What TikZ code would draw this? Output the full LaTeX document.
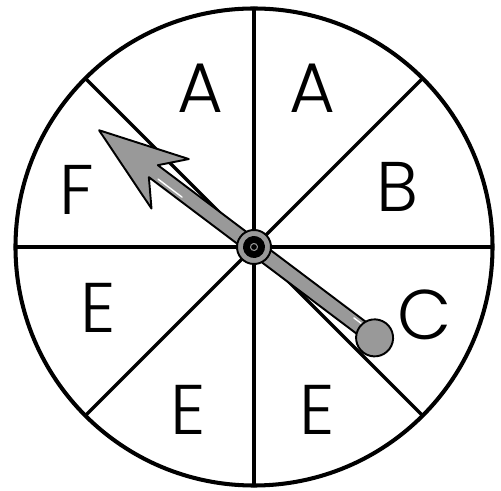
\documentclass[tikz,border=0pt]{standalone}
\usepackage{fontspec}
\setmainfont{Poppins Light}
\begin{document}
\begin{tikzpicture}[x=1cm,y=1cm,line cap=round,line join=round,
    sector/.style={font=\fontsize{40}{40}\selectfont,inner sep=0pt},
    divider/.style={line width=2pt},
    pointer/.style={line width=1.1pt,fill=black!40}]
  \useasboundingbox (-5.08,-4.88) rectangle (4.94,4.94);
  \coordinate (O) at (0,0);
  % dial
  \foreach \a in {0,45,...,315}
    \draw[divider] (O) -- (\a:4.77);
  \draw[line width=2.3pt] (O) circle (4.77);
  % letters
  \node[sector] (secA1) at (-1.08,3.18) {A};
  \node[sector] (secA2) at (1.16,3.18) {A};
  \node[sector] (secB) at (2.86,1.20) {B};
  \node[sector] (secC) at (3.42,-1.36) {C};
  \node[sector] (secE1) at (1.26,-3.26) {E};
  \node[sector] (secE2) at (-1.32,-3.26) {E};
  \node[sector] (secE3) at (-3.12,-1.22) {E};
  \node[sector] (secF) at (-3.54,1.14) {F};
  % spinner
  \begin{scope}[rotate=143]
    \draw[pointer] (-3.02,0.15) -- (2.52,0.15) -- (2.10,0.62) -- (3.88,0)
      -- (2.10,-0.62) -- (2.52,-0.15) -- (-3.02,-0.15) -- cycle;
    \draw[white,line width=0.8pt] (-2.95,-0.07) -- (-2.45,-0.07);
    \draw[white,line width=0.8pt] (1.75,0.07) -- (2.35,0.07);
    \draw[pointer] (-3.02,0) circle (0.37);
    \draw[pointer] (O) circle (0.34);
    \fill (O) circle (0.22);
    \draw[black!40,line width=0.6pt] (O) circle (0.07);
  \end{scope}
\end{tikzpicture}
\end{document}
